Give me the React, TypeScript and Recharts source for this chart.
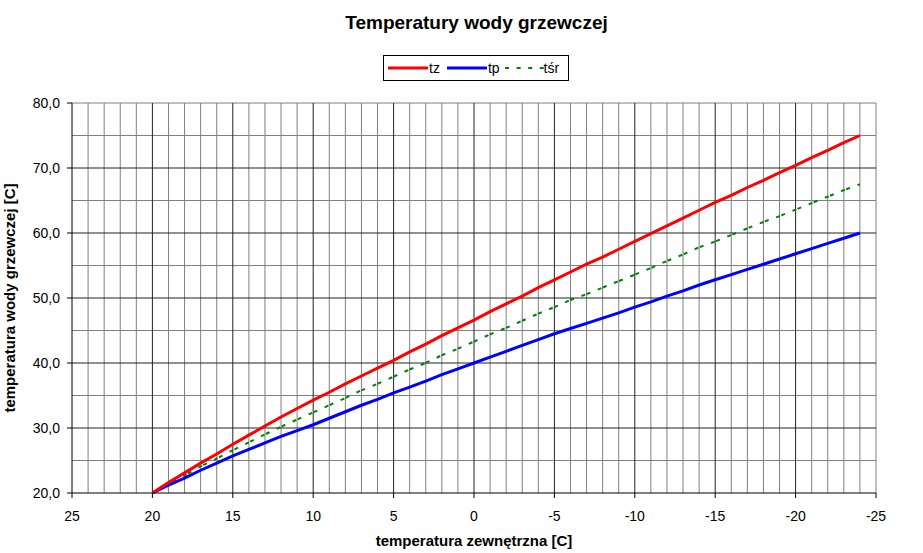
import React from 'react';
import { LineChart, Line, XAxis, YAxis, CartesianGrid } from 'recharts';

// temperatura zewnętrzna, co 1 stopień
const outdoor = [
  20, 19, 18, 17, 16, 15, 14, 13, 12, 11, 10, 9, 8, 7, 6, 5, 4, 3, 2, 1, 0,
  -1, -2, -3, -4, -5, -6, -7, -8, -9, -10, -11, -12, -13, -14, -15, -16, -17,
  -18, -19, -20, -21, -22, -23, -24,
];

const tz = [
  20.0, 21.6, 23.1, 24.6, 26.0, 27.5, 28.9, 30.3, 31.7, 33.0, 34.3, 35.5, 36.8,
  38.0, 39.2, 40.4, 41.7, 42.9, 44.2, 45.4, 46.6, 47.9, 49.1, 50.3, 51.6, 52.8,
  54.0, 55.2, 56.3, 57.5, 58.7, 59.9, 61.1, 62.3, 63.5, 64.7, 65.8, 67.0, 68.1,
  69.3, 70.4, 71.6, 72.7, 73.9, 75.0,
];

const tp = [
  20.0, 21.2, 22.3, 23.5, 24.6, 25.7, 26.7, 27.7, 28.7, 29.6, 30.5, 31.5, 32.5,
  33.5, 34.4, 35.4, 36.3, 37.2, 38.2, 39.1, 40.0, 40.9, 41.8, 42.7, 43.6, 44.5,
  45.3, 46.1, 46.9, 47.7, 48.6, 49.4, 50.3, 51.1, 52.0, 52.8, 53.6, 54.4, 55.2,
  56.0, 56.8, 57.6, 58.4, 59.2, 60.0,
];

const tsr = [
  20.0, 21.4, 22.7, 24.1, 25.3, 26.6, 27.8, 29.0, 30.2, 31.3, 32.4, 33.5, 34.6,
  35.8, 36.8, 37.9, 39.0, 40.0, 41.2, 42.2, 43.3, 44.4, 45.4, 46.5, 47.6, 48.6,
  49.7, 50.6, 51.6, 52.6, 53.6, 54.6, 55.7, 56.7, 57.8, 58.7, 59.7, 60.7, 61.7,
  62.6, 63.6, 64.6, 65.6, 66.6, 67.5,
];

const xTicks = [25, 20, 15, 10, 5, 0, -5, -10, -15, -20, -25];
const yTicks = [20, 30, 40, 50, 60, 70, 80];
const xMinor = [
  24, 23, 22, 21, 19, 18, 17, 16, 14, 13, 12, 11, 9, 8, 7, 6, 4, 3, 2, 1, -1,
  -2, -3, -4, -6, -7, -8, -9, -11, -12, -13, -14, -16, -17, -18, -19, -21, -22,
  -23, -24, -25,
];
const yMinor = [25, 35, 45, 55, 65, 75, 80];
const xMajor = [20, 15, 10, 5, 0, -5, -10, -15, -20];
const yMajor = [30, 40, 50, 60, 70];

const data = outdoor.map((x, i) => ({ x, tz: tz[i], tp: tp[i], tsr: tsr[i] }));

const FONT = '"Liberation Sans", Arial, sans-serif';

const LegendBox = () => (
  <div
    style={{
      position: 'absolute',
      top: 55,
      left: 383,
      border: '1px solid #000',
      width: 184,
      height: 24,
      display: 'flex',
      alignItems: 'center',
      fontFamily: FONT,
      fontSize: 14,
      color: '#000',
      background: '#fff',
    }}
  >
    <svg width={42} height={10} style={{ marginLeft: 3 }}>
      <line x1={1} y1={5} x2={41} y2={5} stroke="#ff0000" strokeWidth={3} />
    </svg>
    <span style={{ marginRight: 6 }}>tz</span>
    <svg width={42} height={10}>
      <line x1={1} y1={5} x2={41} y2={5} stroke="#0000ff" strokeWidth={3} />
    </svg>
    <span style={{ marginRight: 4 }}>tp</span>
    <svg width={40} height={10}>
      <line x1={1} y1={5} x2={40} y2={5} stroke="#008000" strokeWidth={2} strokeDasharray="4 7.6" />
    </svg>
    <span>tśr</span>
  </div>
);

const App: React.FC = () => {
  return (
    <div style={{ position: 'relative', width: 923, height: 553, background: '#fff' }}>
      <style>{`body{margin:0}`}</style>
      <div
        style={{
          position: 'absolute',
          top: 12,
          left: 0,
          width: 953,
          textAlign: 'center',
          fontFamily: FONT,
          fontWeight: 'bold',
          fontSize: 19,
          color: '#000',
        }}
      >
        Temperatury wody grzewczej
      </div>
      <LineChart
        width={923}
        height={553}
        data={data}
        margin={{ top: 103, right: 47, bottom: 0, left: 0 }}
        style={{ fontFamily: FONT }}
      >
        <CartesianGrid
          stroke="#808080"
          strokeWidth={1}
          verticalValues={xMinor}
          horizontalValues={yMinor}
        />
        <CartesianGrid
          stroke="#222222"
          strokeWidth={1}
          verticalValues={xMajor}
          horizontalValues={yMajor}
        />
        <XAxis
          type="number"
          dataKey="x"
          domain={[-25, 25]}
          reversed
          ticks={xTicks}
          interval={0}
          height={60}
          axisLine={{ stroke: '#000' }}
          tickLine={{ stroke: '#000' }}
          tickSize={5}
          tickMargin={13}
          tick={{ fill: '#000', fontSize: 14 }}
          label={{
            value: 'temperatura zewnętrzna [C]',
            position: 'insideBottom',
            offset: 7,
            fill: '#000',
            fontSize: 15,
            fontWeight: 'bold',
          }}
        />
        <YAxis
          type="number"
          domain={[20, 80]}
          ticks={yTicks}
          interval={0}
          width={72}
          axisLine={{ stroke: '#000' }}
          tickLine={{ stroke: '#000' }}
          tickSize={5}
          tickMargin={7}
          tick={{ fill: '#000', fontSize: 14 }}
          tickFormatter={(v: number) => v.toFixed(1).replace('.', ',')}
          label={{
            value: 'temperatura wody grzewczej [C]',
            angle: -90,
            position: 'insideLeft',
            offset: 10,
            style: { textAnchor: 'middle' },
            fill: '#000',
            fontSize: 15,
            fontWeight: 'bold',
          }}
        />
        <Line
          type="linear"
          dataKey="tsr"
          name="tśr"
          stroke="#008000"
          strokeWidth={2}
          strokeDasharray="4 1.5 4 8"
          dot={false}
          isAnimationActive={false}
        />
        <Line
          type="linear"
          dataKey="tp"
          name="tp"
          stroke="#0000ff"
          strokeWidth={3}
          dot={false}
          isAnimationActive={false}
        />
        <Line
          type="linear"
          dataKey="tz"
          name="tz"
          stroke="#ff0000"
          strokeWidth={3}
          dot={false}
          isAnimationActive={false}
        />
      </LineChart>
      <LegendBox />
    </div>
  );
};

export default App;
